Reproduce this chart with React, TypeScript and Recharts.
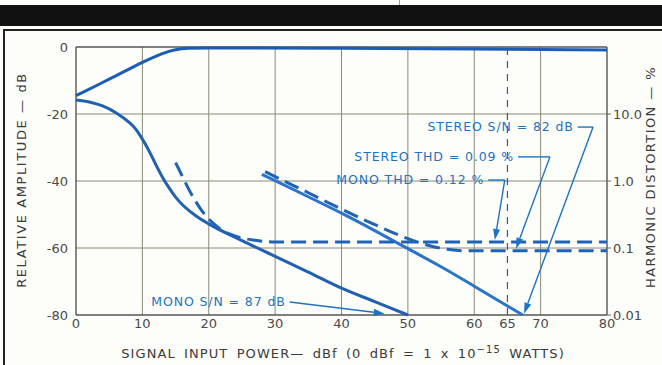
import React from 'react';
import { ComposedChart, Line, XAxis, YAxis, ReferenceLine } from 'recharts';

// axis ticks
const xTicks = [0, 10, 20, 30, 40, 50, 60, 65, 70, 80];
const dbTicks = [0, -20, -40, -60, -80];
const thdTicks = [0.01, 0.1, 1, 10];
const gridX = [10, 20, 30, 40, 50, 60, 70];
const gridY = [-20, -40, -60];

// curves, x = dBf, y = dB (left axis)
const outputLevel = [
  { x: 0, y: -14.5 }, { x: 2, y: -12.6 }, { x: 4, y: -10.6 }, { x: 6, y: -8.6 },
  { x: 8, y: -6.6 }, { x: 10, y: -4.6 }, { x: 12, y: -2.8 }, { x: 13, y: -2 },
  { x: 14, y: -1.3 }, { x: 15, y: -0.8 }, { x: 17, y: -0.4 }, { x: 20, y: -0.3 },
  { x: 40, y: -0.4 }, { x: 60, y: -0.6 }, { x: 80, y: -0.9 },
];
const monoSN = [
  { x: 0, y: -15.8 }, { x: 2, y: -16.4 }, { x: 4, y: -17.6 }, { x: 6, y: -19.6 },
  { x: 8, y: -22.5 }, { x: 9, y: -24.5 }, { x: 10, y: -27.5 }, { x: 11, y: -31 },
  { x: 12, y: -35 }, { x: 13, y: -38.8 }, { x: 14, y: -42 }, { x: 15, y: -44.8 },
  { x: 16, y: -47 }, { x: 18, y: -50.3 }, { x: 20, y: -52.8 }, { x: 25, y: -57.8 },
  { x: 30, y: -62.5 }, { x: 35, y: -67.2 }, { x: 40, y: -72 }, { x: 45, y: -76 },
  { x: 50, y: -80 },
];
const stereoSN = [
  { x: 28, y: -38 }, { x: 30, y: -39.9 }, { x: 35, y: -44.7 }, { x: 40, y: -49.6 },
  { x: 45, y: -54.8 }, { x: 50, y: -60.2 }, { x: 55, y: -65.6 }, { x: 60, y: -71.4 },
  { x: 65, y: -77.3 }, { x: 67.3, y: -80 },
];
const monoTHD = [
  { x: 15, y: -34.5 }, { x: 16, y: -38.5 }, { x: 17, y: -42.5 }, { x: 18, y: -46 },
  { x: 19, y: -49 }, { x: 20, y: -51.3 }, { x: 21, y: -53.2 }, { x: 22, y: -54.7 },
  { x: 24, y: -56.5 }, { x: 27, y: -57.7 }, { x: 30, y: -58.2 }, { x: 80, y: -58.2 },
];
const stereoTHD = [
  { x: 28.5, y: -37.2 }, { x: 30, y: -38.7 }, { x: 35, y: -43.5 }, { x: 40, y: -48.4 },
  { x: 45, y: -53 }, { x: 48, y: -55.6 }, { x: 50, y: -57.2 }, { x: 52, y: -58.6 },
  { x: 54, y: -59.7 }, { x: 56, y: -60.4 }, { x: 58, y: -60.8 }, { x: 80, y: -60.8 },
];

// callouts: text end, bend, arrow tip (data coords)
const callouts = [
  { text: 'STEREO S/N = 82 dB', start: { x: 75.6, y: -23.9 }, bend: { x: 77.9, y: -23.9 }, tip: { x: 67.5, y: -79.6 } },
  { text: 'STEREO THD = 0.09 %', start: { x: 66.6, y: -32.8 }, bend: { x: 71.4, y: -32.8 }, tip: { x: 66.3, y: -60.2 } },
  { text: 'MONO THD = 0.12 %', start: { x: 62.1, y: -39.7 }, bend: { x: 64.6, y: -39.7 }, tip: { x: 63.1, y: -57.6 } },
  { text: 'MONO S/N = 87 dB', start: { x: 32.2, y: -76.1 }, bend: { x: 32.2, y: -76.1 }, tip: { x: 46.5, y: -79.6 } },
];

const BLUE = '#1f63b8';
const NOTE = '#1e72c4';
const GRID = '#8a8a78';
const FONT = 'DejaVu Sans';

const fmtThd = (v: number) => (v >= 1 ? v.toFixed(1) : String(v));

// horizontal leg of a callout with its text on the left
const labelShape = (text: string) => (p: any) => (
  <g>
    <line x1={p.x1} y1={p.y1} x2={p.x2} y2={p.y2} stroke={NOTE} strokeWidth={1.4} />
    <text x={p.x1 - 4} y={p.y1} dy="0.35em" textAnchor="end" fill={NOTE}
      fontFamily={FONT} fontSize={12.5} letterSpacing={0.9}>
      {text}
    </text>
  </g>
);

// leader with arrowhead at the second point
const arrowShape = (p: any) => {
  const dx = p.x2 - p.x1;
  const dy = p.y2 - p.y1;
  const len = Math.sqrt(dx * dx + dy * dy) || 1;
  const ux = dx / len, uy = dy / len;
  const L = 11, W = 3.5;
  const bx = p.x2 - ux * L, by = p.y2 - uy * L;
  const pts = `${p.x2},${p.y2} ${bx - uy * W},${by + ux * W} ${bx + uy * W},${by - ux * W}`;
  return (
    <g>
      <line x1={p.x1} y1={p.y1} x2={bx} y2={by} stroke={NOTE} strokeWidth={1.4} />
      <polygon points={pts} fill={NOTE} />
    </g>
  );
};

export default function App() {
  const tick = { fontSize: 13, fill: '#4a4a4a', fontFamily: FONT };
  return (
    <div style={{ position: 'absolute', left: 0, top: 0, width: 662, height: 365, background: '#fdfdfa', overflow: 'hidden', fontFamily: FONT }}>
      {/* page scraps: black band + frame */}
      <div style={{ position: 'absolute', left: 0, top: 5, width: 662, height: 21, background: '#111' }} />
      <div style={{ position: 'absolute', left: 399, top: 0, width: 1, height: 5, background: '#999' }} />
      <div style={{ position: 'absolute', left: 3, top: 29, width: 659, height: 2, background: '#222' }} />
      <div style={{ position: 'absolute', left: 3, top: 29, width: 2, height: 336, background: '#222' }} />

      <div style={{ position: 'absolute', left: 0, top: 0 }}>
        <ComposedChart width={662} height={365} margin={{ top: 47, right: 10, bottom: 20, left: 26 }}>
          <XAxis dataKey="x" type="number" domain={[0, 80]} ticks={xTicks} interval={0}
            tick={tick} tickLine={false} axisLine={false} tickSize={0} tickMargin={4} height={30} />
          <YAxis yAxisId="l" type="number" domain={[-80, 0]} ticks={dbTicks} interval={0}
            tick={tick} tickLine={false} axisLine={false} tickSize={0} tickMargin={8} width={50} />
          <YAxis yAxisId="r" orientation="right" type="number" scale="log" domain={[0.01, 100]}
            allowDataOverflow ticks={thdTicks} interval={0} tickFormatter={fmtThd}
            tick={tick} axisLine={false} tickLine={{ stroke: '#666' }} tickSize={4} tickMargin={2} width={45} />

          {gridX.map((v) => (
            <ReferenceLine key={'gx' + v} yAxisId="l" x={v} stroke={GRID} strokeWidth={1} />
          ))}
          {gridY.map((v) => (
            <ReferenceLine key={'gy' + v} yAxisId="l" y={v} stroke={GRID} strokeWidth={1} />
          ))}
          <ReferenceLine yAxisId="l" x={65} stroke="#4a5570" strokeWidth={1.2} strokeDasharray="7 6" />
          <ReferenceLine yAxisId="l" x={0} stroke="#555" strokeWidth={1.4} />
          <ReferenceLine yAxisId="l" x={80} stroke="#555" strokeWidth={1.4} />
          <ReferenceLine yAxisId="l" y={0} stroke="#555" strokeWidth={1.4} />
          <ReferenceLine yAxisId="l" y={-80} stroke="#555" strokeWidth={1.4} />

          <Line yAxisId="l" data={outputLevel} dataKey="y" type="monotone" stroke="#1d5cb4" strokeWidth={3} dot={false} isAnimationActive={false} />
          <Line yAxisId="l" data={monoSN} dataKey="y" type="monotone" stroke="#2160b2" strokeWidth={3} dot={false} isAnimationActive={false} />
          <Line yAxisId="l" data={stereoSN} dataKey="y" type="monotone" stroke="#2a74cc" strokeWidth={3} dot={false} isAnimationActive={false} />
          <Line yAxisId="l" data={monoTHD} dataKey="y" type="monotone" stroke={BLUE} strokeWidth={3} strokeDasharray="15 7" dot={false} isAnimationActive={false} />
          <Line yAxisId="l" data={stereoTHD} dataKey="y" type="monotone" stroke={BLUE} strokeWidth={3} strokeDasharray="15 7" dot={false} isAnimationActive={false} />

          {callouts.map((c) => (
            <ReferenceLine key={'t' + c.text} yAxisId="l" segment={[c.start, c.bend]} shape={labelShape(c.text)} />
          ))}
          {callouts.map((c) => (
            <ReferenceLine key={'a' + c.text} yAxisId="l" segment={[c.bend, c.tip]} shape={arrowShape} />
          ))}
        </ComposedChart>
      </div>

      {/* axis titles */}
      <div style={{ position: 'absolute', left: 22 - 140, top: 180 - 9, width: 280, height: 18, lineHeight: '18px', textAlign: 'center',
        transform: 'rotate(-90deg)', fontSize: 13, letterSpacing: 1.6, color: '#3a3a3a', whiteSpace: 'nowrap' }}>
        RELATIVE AMPLITUDE — dB
      </div>
      <div style={{ position: 'absolute', left: 651 - 140, top: 177 - 9, width: 280, height: 18, lineHeight: '18px', textAlign: 'center',
        transform: 'rotate(-90deg)', fontSize: 13, letterSpacing: 1.4, color: '#3a3a3a', whiteSpace: 'nowrap' }}>
        HARMONIC DISTORTION — %
      </div>
      <div style={{ position: 'absolute', left: 343 - 260, top: 344, width: 520, height: 20, lineHeight: '20px', textAlign: 'center',
        fontSize: 13, letterSpacing: 1.1, wordSpacing: 3, color: '#3a3a3a', whiteSpace: 'nowrap' }}>
        SIGNAL INPUT POWER— dBf (0 dBf = 1 x 10<sup style={{ fontSize: 10, lineHeight: 0 }}>−15</sup> WATTS)
      </div>
    </div>
  );
}
